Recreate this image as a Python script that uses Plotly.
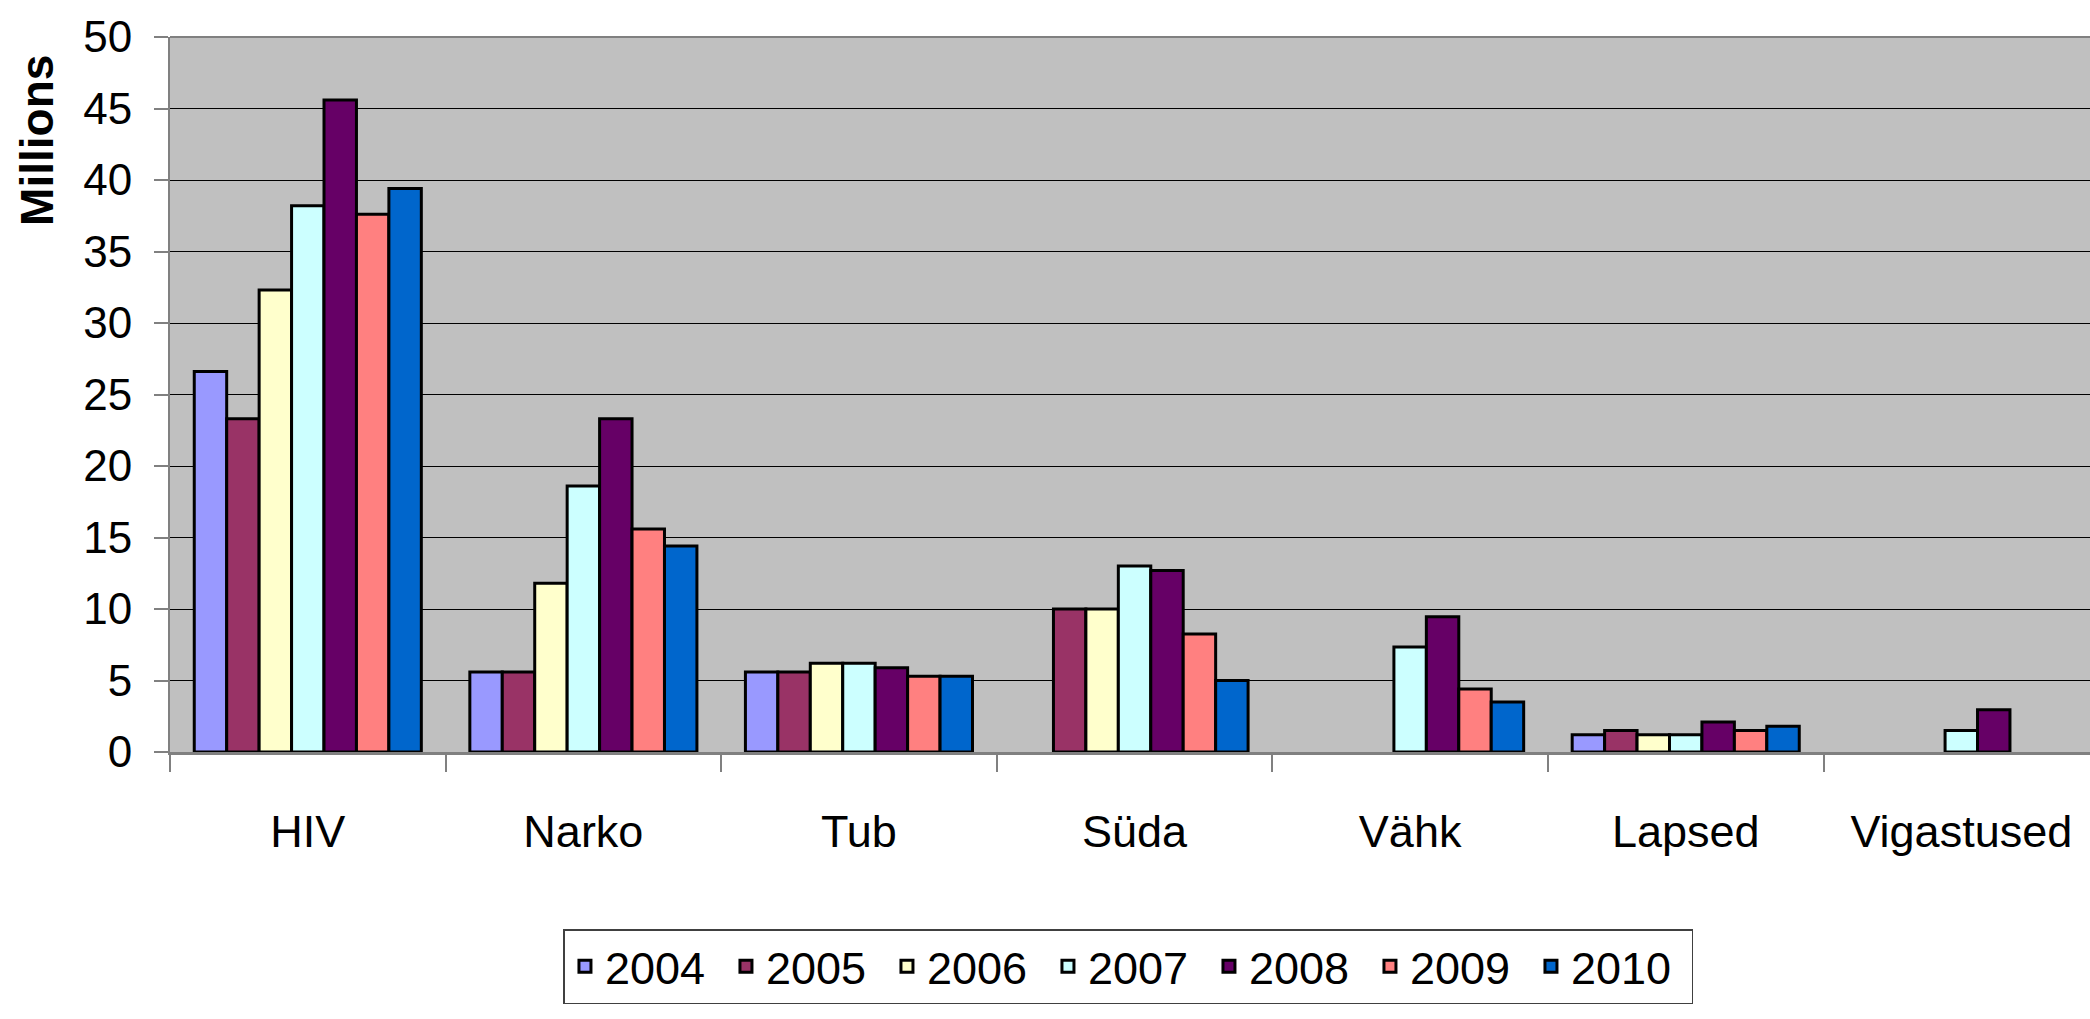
import plotly.graph_objects as go

categories = ["HIV", "Narko", "Tub", "Süda", "Vähk", "Lapsed", "Vigastused"]
years = ["2004", "2005", "2006", "2007", "2008", "2009", "2010"]

v2004 = [26.6, 5.6, 5.6, None, None, 1.2, None]
v2005 = [23.3, 5.6, 5.6, 10.0, None, 1.5, None]
v2006 = [32.3, 11.8, 6.2, 10.0, None, 1.2, None]
v2007 = [38.2, 18.6, 6.2, 13.0, 7.35, 1.2, 1.5]
v2008 = [45.6, 23.3, 5.9, 12.7, 9.45, 2.1, 2.95]
v2009 = [37.6, 15.6, 5.3, 8.25, 4.4, 1.5, None]
v2010 = [39.4, 14.4, 5.3, 5.0, 3.5, 1.8, None]
series = [v2004, v2005, v2006, v2007, v2008, v2009, v2010]

colors = ["#9999FF", "#993366", "#FFFFCC", "#CCFFFF", "#660066", "#FF8080", "#0066CC"]

y_ticks = [0, 5, 10, 15, 20, 25, 30, 35, 40, 45, 50]

FONT = "Liberation Sans, Arial, sans-serif"

fig = go.Figure()
for name, vals, col in zip(years, series, colors):
    fig.add_trace(go.Bar(
        x=categories, y=vals, name=name,
        marker=dict(color=col, line=dict(color="#000000", width=3)),
    ))

fig.update_layout(
    width=2090, height=1019,
    margin=dict(l=170, r=0, t=37, b=267, pad=0),
    paper_bgcolor="#FFFFFF",
    plot_bgcolor="#C0C0C0",
    barmode="group",
    bargap=0.176,
    bargroupgap=0,
    font=dict(family=FONT, size=45, color="#000000"),
    showlegend=True,
    legend=dict(
        orientation="h",
        x=0.4992, xanchor="center",
        y=-0.2476, yanchor="top",
        bgcolor="#FFFFFF",
        bordercolor="#404040", borderwidth=1.5,
        font=dict(family=FONT, size=45),
        entrywidth=116, entrywidthmode="pixels",
        traceorder="normal",
    ),
    xaxis=dict(
        type="category",
        range=[-0.5, 6.467],
        showgrid=False,
        automargin=False,
        ticks="outside", tickson="boundaries",
        ticklen=17, tickwidth=1.5, tickcolor="#808080",
        showline=True, linecolor="#808080", linewidth=3,
        ticklabelstandoff=38,
        tickfont=dict(family=FONT, size=45),
        fixedrange=True,
    ),
    yaxis=dict(
        range=[0, 50],
        tickvals=y_ticks,
        showgrid=True, gridcolor="#000000", gridwidth=1,
        zeroline=False,
        automargin=False,
        ticks="outside", ticklen=14, tickwidth=1.5, tickcolor="#808080",
        showline=True, linecolor="#808080", linewidth=2,
        ticklabelstandoff=13,
        tickfont=dict(family=FONT, size=44),
        fixedrange=True,
    ),
    annotations=[dict(
        text="<b>Millions</b>", textangle=-90,
        xref="paper", yref="paper",
        x=-0.0693, y=0.856, xanchor="center", yanchor="middle",
        showarrow=False,
        font=dict(family=FONT, size=46, color="#000000"),
    )],
    shapes=[dict(
        type="line", xref="paper", yref="paper",
        x0=0, x1=1, y0=1, y1=1,
        line=dict(color="#808080", width=2),
    )],
)

fig.write_html(
    "out.html",
    config={"displayModeBar": False},
    post_script="document.body.style.margin='0';",
)
